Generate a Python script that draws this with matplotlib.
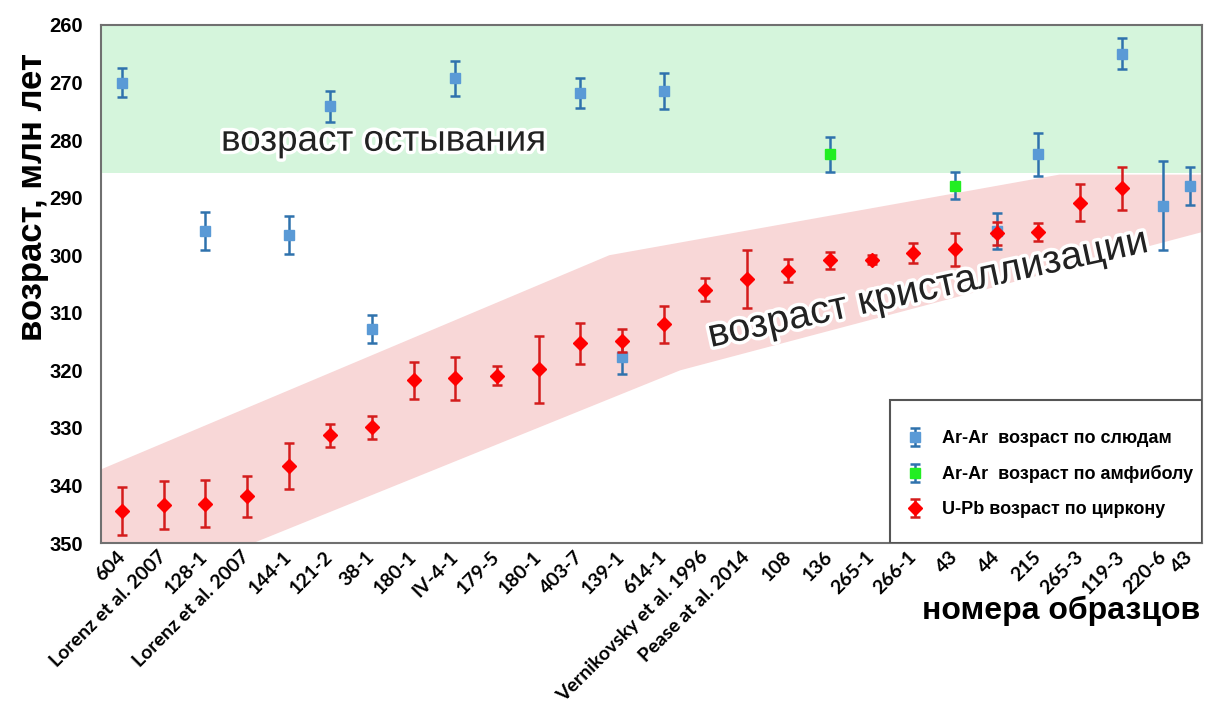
import numpy as np
import matplotlib.pyplot as plt
import matplotlib.patheffects as pe
from matplotlib.patches import Rectangle

### data
samples = ['604', 'Lorenz et al. 2007', '128-1', 'Lorenz et al. 2007', '144-1', '121-2',
           '38-1', '180-1', 'IV-4-1', '179-5', '180-1', '403-7', '139-1', '614-1',
           'Vernikovsky et al. 1996', 'Pease at al. 2014', '108', '136', '265-1', '266-1',
           '43', '44', '215', '265-3', '119-3', '220-6', '43']
sample_pos = list(range(26)) + [25.63]

# Ar-Ar on micas
mica_idx = [0, 2, 4, 5, 6, 8, 11, 12, 13, 21, 22, 24, 25, 26]
mica_age = [270.0, 295.8, 296.5, 274.1, 312.8, 269.3, 271.9, 317.7, 271.5, 295.8, 282.5, 265.0, 291.4, 288.0]
mica_err = [2.6, 3.3, 3.3, 2.7, 2.4, 3.1, 2.6, 2.9, 3.1, 3.2, 3.7, 2.7, 7.7, 3.3]

# Ar-Ar on amphibole
amph_idx = [17, 20]
amph_age = [282.5, 287.9]
amph_err = [3.0, 2.3]

# U-Pb on zircon
zircon_idx = list(range(25))
zircon_age = [344.4, 343.4, 343.2, 341.9, 336.6, 331.3, 329.9, 321.7, 321.4, 320.9,
              319.8, 315.3, 314.9, 312.0, 306.0, 304.1, 302.7, 300.9, 300.8, 299.6,
              299.0, 296.2, 296.0, 290.9, 288.4]
zircon_err = [4.2, 4.1, 4.1, 3.6, 4.0, 2.0, 2.0, 3.2, 3.8, 1.7,
              5.8, 3.6, 2.0, 3.2, 2.0, 5.0, 2.0, 1.5, 0.8, 1.7,
              2.9, 2.0, 1.6, 3.2, 3.8]

# shaded fields
cooling_top, cooling_bottom = 260, 285.8
cryst_upper_x = [-0.5, 11.7, 22.5, 25.92]
cryst_upper_y = [337.2, 300.0, 286.0, 286.0]
cryst_lower_x = [-0.5, 13.4, 25.92]
cryst_lower_y = [360.7, 320.0, 296.0]

yticks = list(range(260, 351, 10))

plt.rcParams['font.family'] = ['Liberation Sans', 'DejaVu Sans']


def pos(idx):
    return [sample_pos[i] for i in idx]


def main():
    fig = plt.figure(figsize=(12.09, 7.13), dpi=100)
    ax = fig.add_axes([0.0835, 0.2384, 0.9105, 0.7266])

    # background fields
    ax.axhspan(cooling_top, cooling_bottom, color='#d5f5dc', lw=0, zorder=0)
    poly_x = cryst_upper_x + cryst_lower_x[::-1]
    poly_y = cryst_upper_y + cryst_lower_y[::-1]
    ax.fill(poly_x, poly_y, color='#f8d7d7', lw=0, zorder=0)

    # data
    style = dict(elinewidth=1.8, capsize=3.5, capthick=1.8, ms=7.5)
    ax.errorbar(pos(mica_idx), mica_age, yerr=mica_err, fmt='s', mfc='#5a9ad6', mec='#5a9ad6',
                ecolor='#2f72ad', label='Ar-Ar  возраст по слюдам', zorder=3, **style)
    ax.errorbar(pos(amph_idx), amph_age, yerr=amph_err, fmt='s', mfc='#22ee22', mec='#22ee22',
                ecolor='#2f72ad', label='Ar-Ar  возраст по амфиболу', zorder=3, **style)
    ax.errorbar(pos(zircon_idx), zircon_age, yerr=zircon_err, fmt='D', mfc='#ff0000', mec='#ff0000',
                ecolor='#d41c1c', label='U-Pb возраст по циркону', zorder=4, **style)

    # field labels
    halo = [pe.withStroke(linewidth=5, foreground='white')]
    ax.text(6.27, 280.2, 'возраст остывания', fontsize=26.5, color='#222222',
            ha='center', va='center', path_effects=halo, zorder=5)
    ax.text(19.34, 305.8, 'возраст кристаллизации', fontsize=28.5, color='#222222',
            ha='center', va='center', rotation=12.3, rotation_mode='anchor',
            path_effects=halo, zorder=5)

    # axes
    ax.set_xlim(-0.504, 25.92)
    ax.set_ylim(350, 260)
    ax.set_yticks(yticks)
    ax.set_xticks(sample_pos)
    ax.set_xticklabels(samples, rotation=45, ha='right', va='center', rotation_mode='anchor',
                       fontsize=14, fontweight='bold', family=['Lato', 'DejaVu Sans'])
    ax.tick_params(axis='both', length=0)
    ax.tick_params(axis='x', pad=8)
    ax.tick_params(axis='y', pad=13)
    for lab in ax.get_yticklabels():
        lab.set_fontsize(14.5)
        lab.set_fontweight('bold')
    for sp in ax.spines.values():
        sp.set_color('#707070')
        sp.set_linewidth(1.5)

    fig.text(0.027, 0.724, 'возраст, млн лет', fontsize=25, fontweight='bold',
             rotation=90, ha='center', va='center')
    fig.text(0.993, 0.143, 'номера образцов', fontsize=23, fontweight='bold', ha='right', va='center')

    # legend box drawn by hand, entries placed inside it
    ax.add_patch(Rectangle((0.7166, 0.0), 0.2834, 0.276, transform=ax.transAxes,
                           facecolor='white', edgecolor='#555555', lw=1.5, zorder=6))
    leg = ax.legend(loc='center', bbox_to_anchor=(0.861, 0.133), frameon=False,
                    borderpad=0, labelspacing=1.0, handlelength=1.2, handletextpad=0.9,
                    prop={'size': 13, 'weight': 'bold'})
    leg.set_zorder(7)

    fig.savefig('out.png', dpi=100)


if __name__ == '__main__':
    main()
